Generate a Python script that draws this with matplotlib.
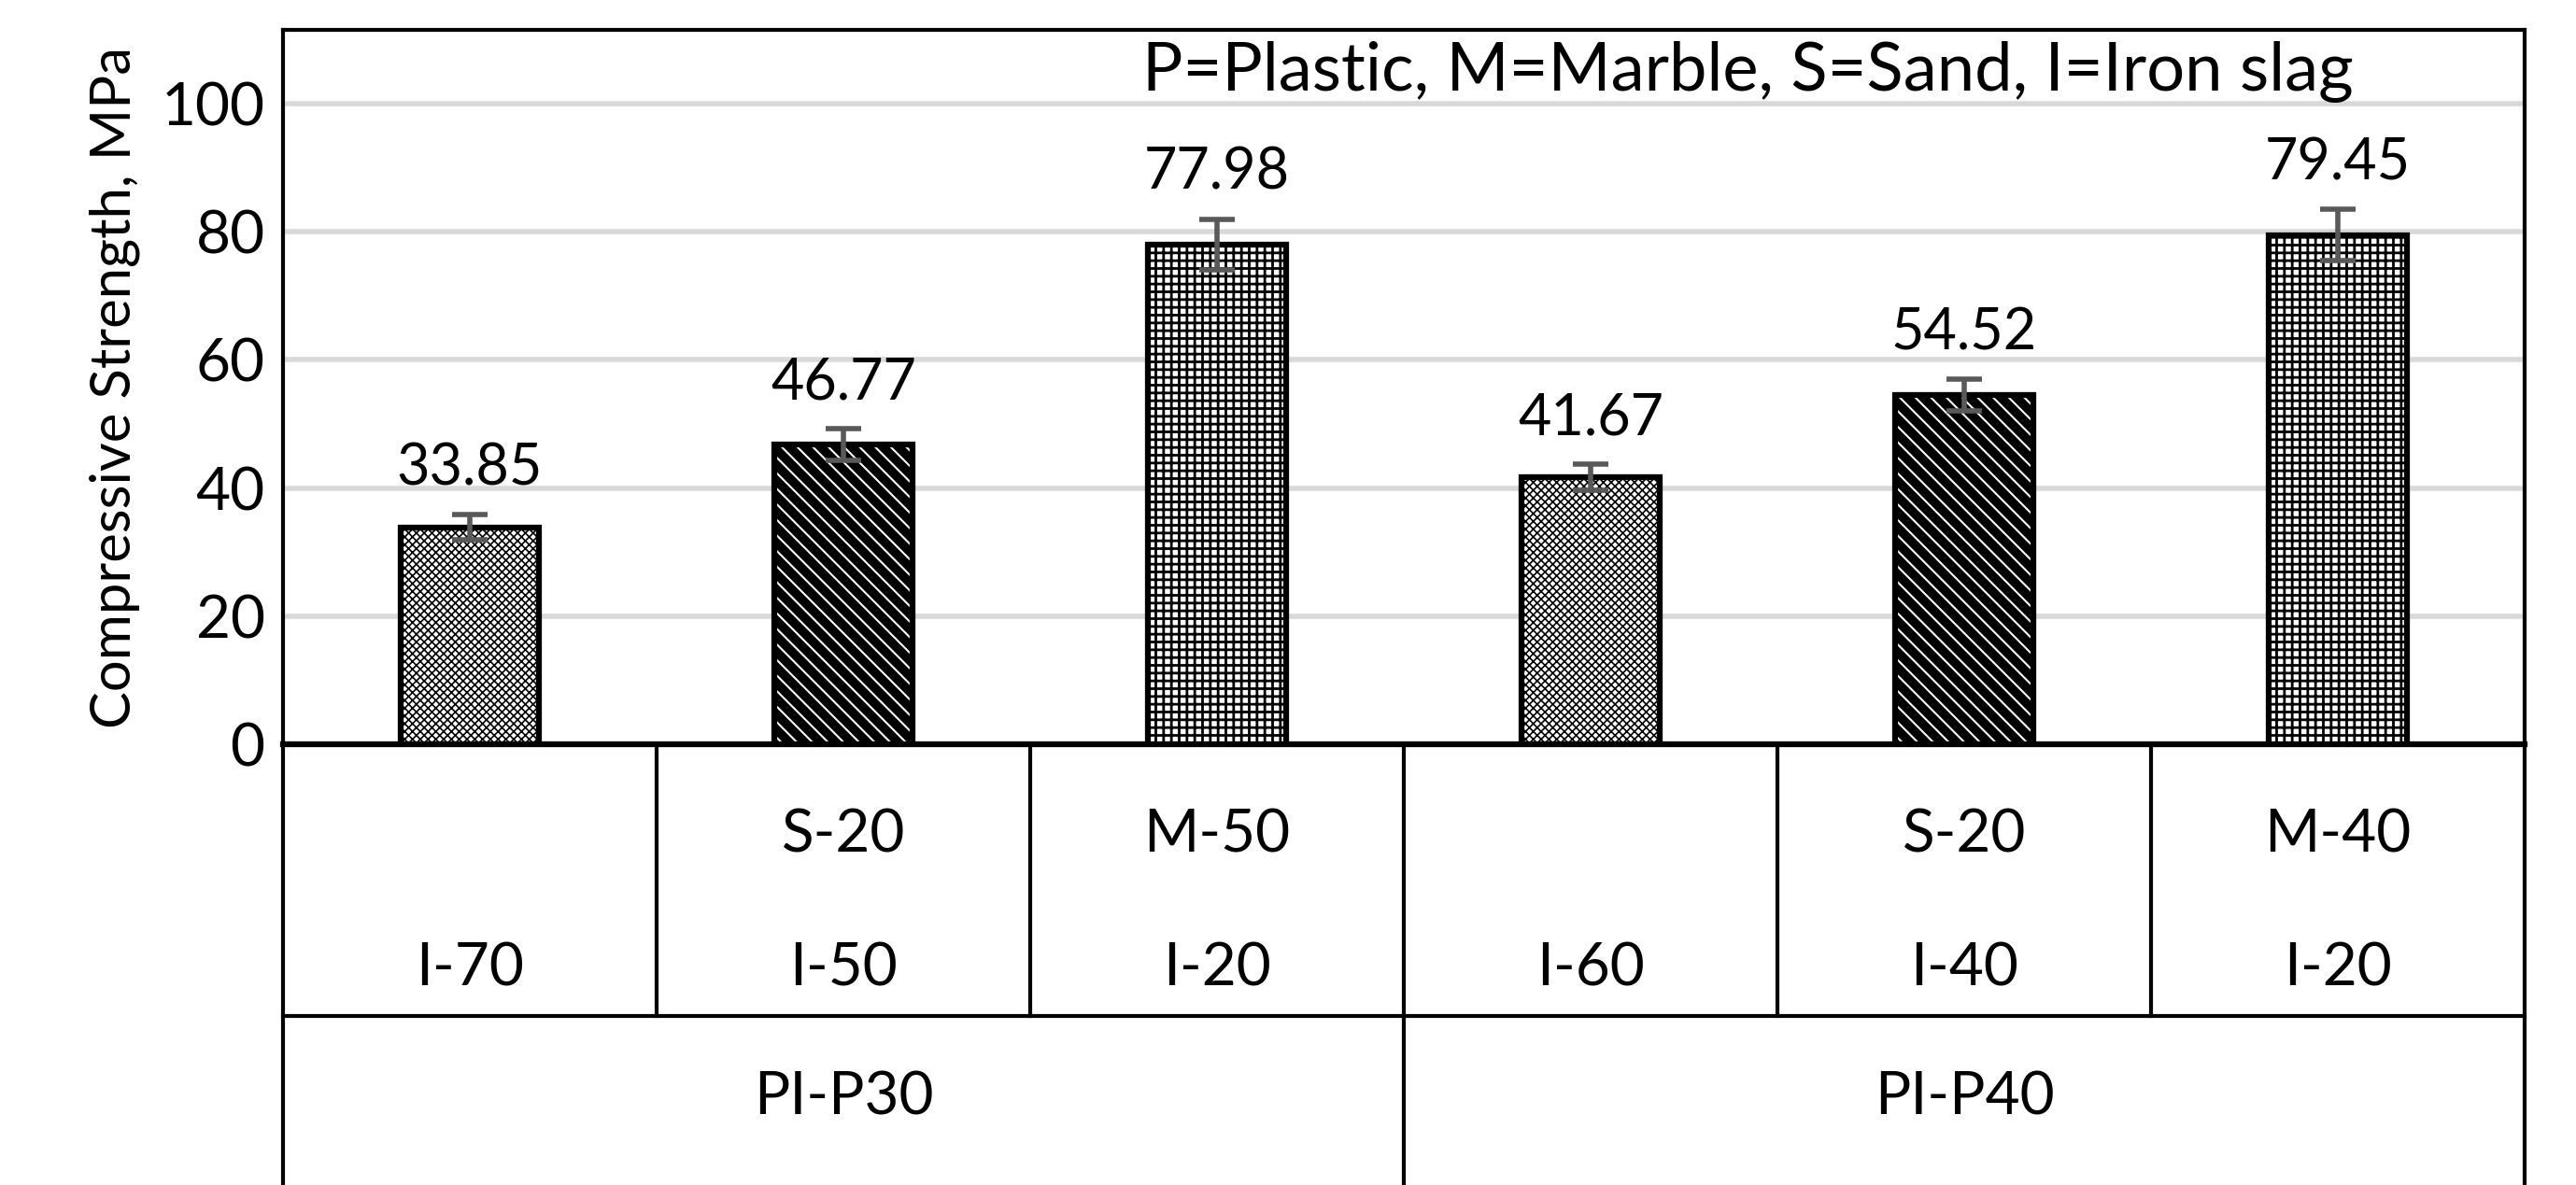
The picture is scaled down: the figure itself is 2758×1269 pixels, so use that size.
import matplotlib
matplotlib.use("Agg")
import matplotlib.pyplot as plt
from matplotlib.transforms import blended_transform_factory as btf

values = [33.85, 46.77, 77.98, 41.67, 54.52, 79.45]
errors = [2.0, 2.5, 4.0, 2.0, 2.5, 4.0]
row1 = ["", "S-20", "M-50", "", "S-20", "M-40"]
row2 = ["I-70", "I-50", "I-20", "I-60", "I-40", "I-20"]
groups = ["PI-P30", "PI-P40"]
hatches = ["xxxx", "\\\\", "++"]
hlw = [1.2, 7.0, 2.0]
yticks = [0, 20, 40, 60, 80, 100]

plt.rcParams['font.family'] = ['Lato', 'DejaVu Sans']
W, H = 2758, 1269
fig = plt.figure(figsize=(W/100, H/100), dpi=100)
ax = fig.add_axes([303/W, 1-797/H, 2400/W, 765/H])
ax.set_xlim(0, 6)
ax.set_ylim(0, 111.5)
xs = [i + 0.5 for i in range(6)]
for i, (x, v, e) in enumerate(zip(xs, values, errors)):
    bars = ax.bar(x, v, width=0.37, facecolor='white', edgecolor='black', linewidth=4.5,
                  hatch=hatches[i % 3], zorder=3)
    for b in bars:
        try:
            b.set_hatch_linewidth(hlw[i % 3])
        except Exception:
            pass
    ax.errorbar(x, v, yerr=e, fmt='none', ecolor='#595959', elinewidth=4, capsize=14, capthick=4, zorder=4)
    ax.text(x, v + e + 3, f"{v:.2f}", ha='center', va='bottom', fontsize=44, zorder=5)
ax.set_yticks(yticks)
ax.set_yticklabels([str(t) for t in yticks], fontsize=46)
ax.tick_params(axis='y', length=0, pad=14)
ax.set_xticks([])
ax.grid(axis='y', color='#d9d9d9', linewidth=4, zorder=0)
ax.set_axisbelow(True)
for s in ax.spines.values():
    s.set_linewidth(3)
ax.spines['bottom'].set_linewidth(4.5)
ax.set_ylabel("Compressive Strength, MPa", fontsize=43, labelpad=16)
ax.text(2.3, 105, "P=Plastic, M=Marble, S=Sand, I=Iron slag", ha='left', va='center', fontsize=52)

tr = btf(ax.transData, ax.transAxes)
for x in [1, 2, 4, 5]:
    ax.plot([x, x], [0, -0.380], color='black', lw=3, transform=tr, clip_on=False)
for x in [0, 3, 6]:
    ax.plot([x, x], [0, -0.62], color='black', lw=3, transform=tr, clip_on=False)
ax.plot([0, 6], [-0.380, -0.380], color='black', lw=3, transform=tr, clip_on=False)
for x, a, b in zip(xs, row1, row2):
    ax.text(x, -0.127, a, ha='center', va='center', fontsize=46, transform=tr)
    ax.text(x, -0.315, b, ha='center', va='center', fontsize=46, transform=tr)
for g, x in zip(groups, [1.5, 4.5]):
    ax.text(x, -0.495, g, ha='center', va='center', fontsize=46, transform=tr)
fig.savefig("out.png", dpi=100)
